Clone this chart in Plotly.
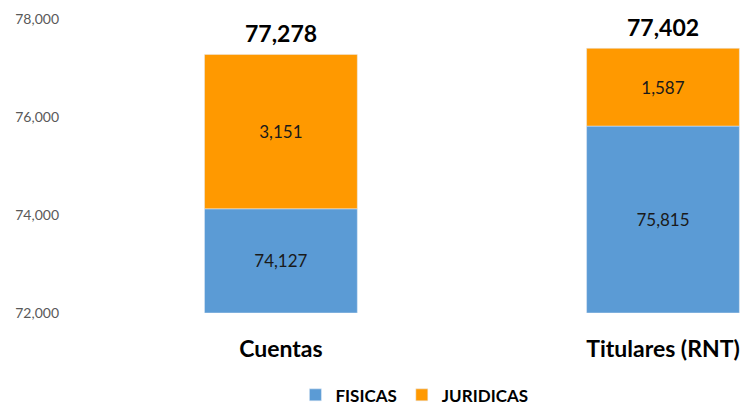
import plotly.graph_objects as go

categories = ["Cuentas", "Titulares (RNT)"]
fisicas = [74127, 75815]
juridicas = [3151, 1587]
totals = [77278, 77402]
y_ticks = [72000, 74000, 76000, 78000]
y_tick_labels = ["72,000", "74,000", "76,000", "78,000"]
axis_min = 72000

FONT = "Lato, 'Open Sans', sans-serif"
xpos = [0, 1]

fig = go.Figure()
fig.add_trace(go.Bar(
    x=xpos, y=[v - axis_min for v in fisicas], base=[axis_min] * len(fisicas),
    name="<b>FISICAS</b>",
    marker_color="#5B9BD5", width=0.4,
    text=[f"{v:,}" for v in fisicas], textposition="inside",
    insidetextanchor="middle",
    textfont=dict(size=17, color="#1a1a1a", family=FONT),
    hoverinfo="skip",
))
fig.add_trace(go.Bar(
    x=xpos, y=juridicas, base=fisicas, name="<b>JURIDICAS</b>",
    marker_color="#FF9900", width=0.4,
    text=[f"{v:,}" for v in juridicas], textposition="inside",
    insidetextanchor="middle",
    textfont=dict(size=17, color="#1a1a1a", family=FONT),
    hoverinfo="skip",
))

for xi, t in zip(xpos, totals):
    fig.add_annotation(x=xi, y=t, text=f"<b>{t:,}</b>", showarrow=False,
                       yanchor="bottom", yshift=5,
                       font=dict(size=23, color="#000000", family=FONT))

fig.update_layout(
    width=744, height=404,
    margin=dict(l=70, r=0, t=19, b=91, autoexpand=False),
    paper_bgcolor="white", plot_bgcolor="white",
    barmode="overlay", showlegend=True,
    font=dict(family=FONT),
    legend=dict(orientation="h", x=0.511, xanchor="center", y=-0.28, yanchor="middle",
                font=dict(size=17, color="#000000", family=FONT),
                itemwidth=30, traceorder="normal"),
    xaxis=dict(range=[-0.552, 1.212], tickmode="array", tickvals=xpos,
               ticktext=[f"<b>{c}</b>" for c in categories],
               tickfont=dict(size=23, color="#000000", family=FONT),
               showgrid=False, zeroline=False, showline=False,
               ticks="", ticklabelstandoff=20, automargin=False),
    yaxis=dict(range=[72000, 78000], tickmode="array", tickvals=y_ticks,
               ticktext=y_tick_labels,
               tickfont=dict(size=14, color="#595959", family=FONT),
               showgrid=False, zeroline=False, showline=False, ticks="",
               ticklabelstandoff=10, automargin=False),
)

fig.write_html("out.html", config={"displayModeBar": False},
               post_script="document.body.style.margin='0';")
